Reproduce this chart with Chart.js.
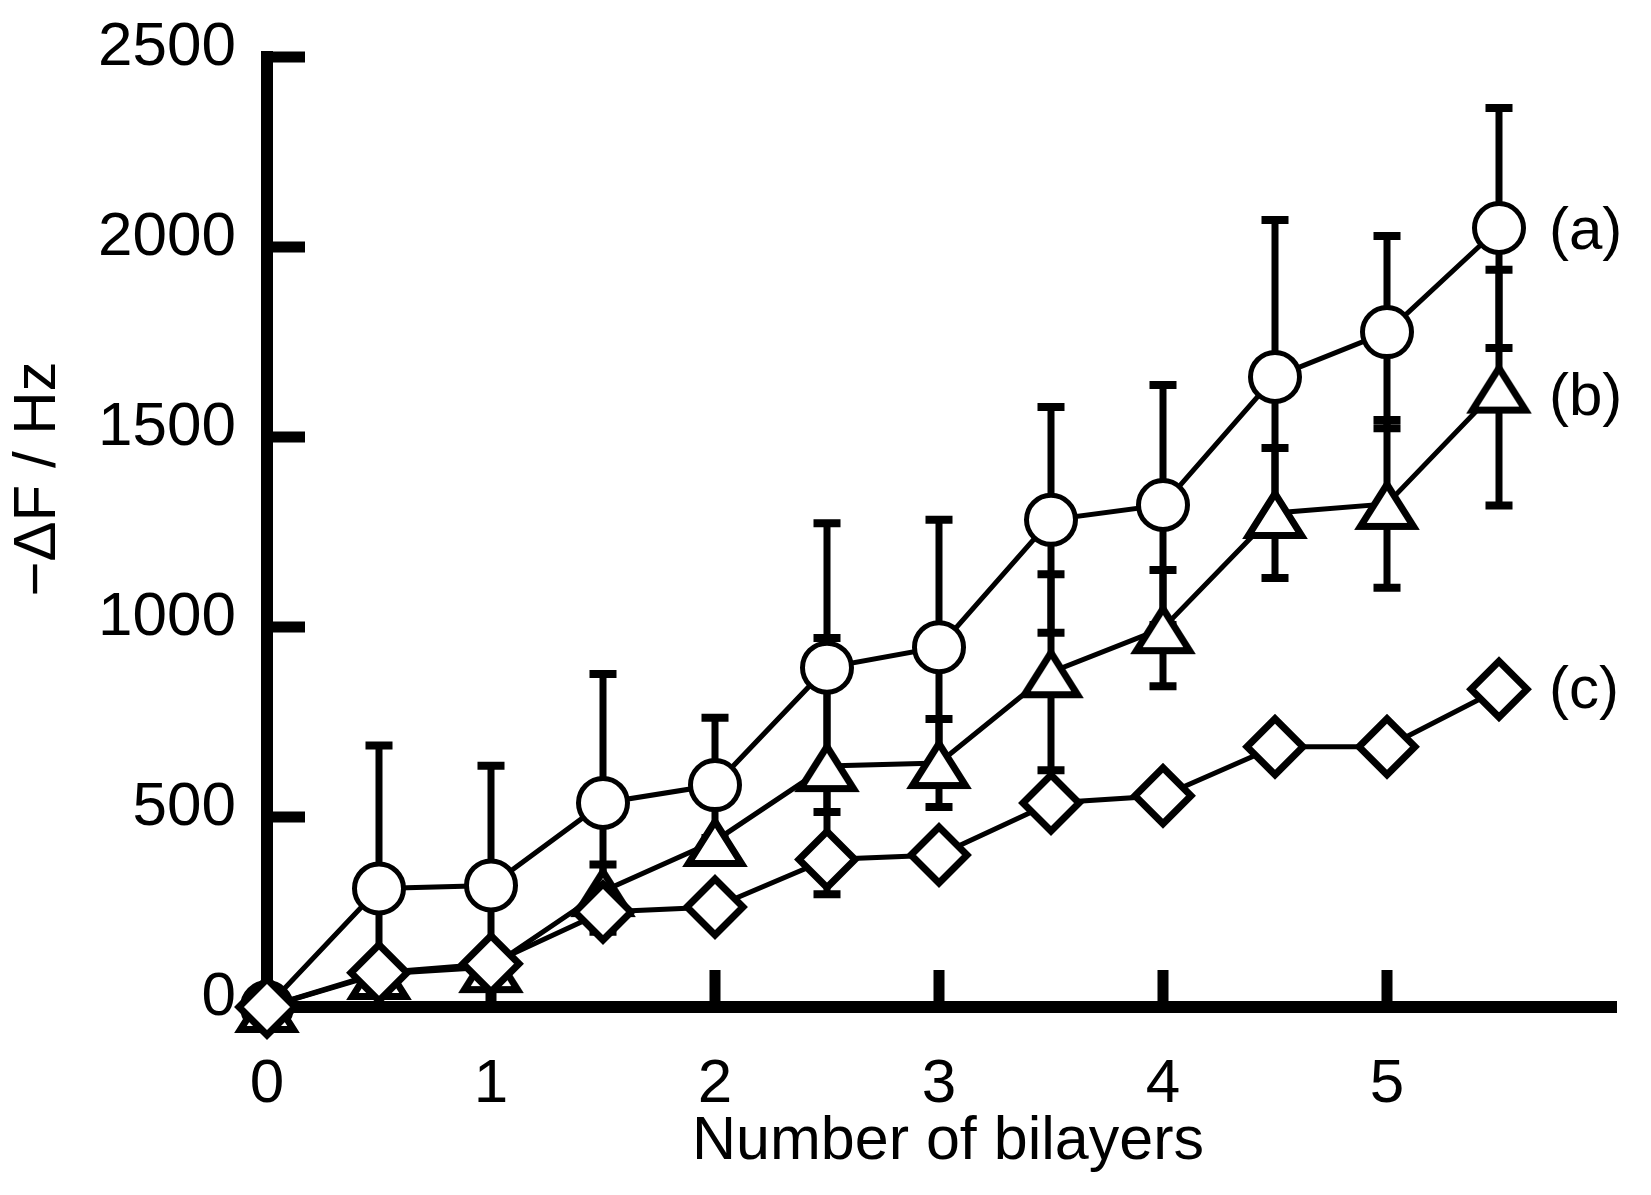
<!DOCTYPE html>
<html>
<head>
<meta charset="utf-8">
<script src="https://cdn.jsdelivr.net/npm/chart.js@4.4.1/dist/chart.umd.min.js"></script>
<style>
  html, body { margin: 0; padding: 0; background: #fff; }
  #wrap { width: 1651px; height: 1195px; }
</style>
</head>
<body>
<div id="wrap"><canvas id="chart"></canvas></div>
<script>
// valori
const bilayers = [0, 0.5, 1, 1.5, 2, 2.5, 3, 3.5, 4, 4.5, 5, 5.5]
const series_a = [0, 312, 320, 537, 584, 893, 947, 1282, 1321, 1658, 1776, 2050]
const series_a_err = [0, 376, 315, 339, 177, 380, 335, 297, 316, 413, 253, 316]
const series_b = [0, 87, 105, 305, 437, 634, 642, 881, 997, 1300, 1324, 1630]
const series_b_err = [0, 40, 40, 70, 8, 337, 116, 258, 153, 171, 221, 310]
const series_c = [0, 90, 114, 250, 263, 388, 400, 537, 556, 685, 685, 836]

const series_labels = ['(a)', '(b)', '(c)']
const x_ticks = [0, 1, 2, 3, 4, 5]
const y_ticks = [0, 500, 1000, 1500, 2000, 2500]
const x_title = 'Number of bilayers'
const y_title = '\u2212\u0394F / Hz'

const FONT = '"Liberation Sans", Arial, sans-serif'

// triangolo disegnato a parte così il centro è a metà altezza come nell'originale
function makeTriangle() {
  const c = document.createElement('canvas')
  c.width = 76
  c.height = 64
  const ctx = c.getContext('2d')
  ctx.beginPath()
  ctx.moveTo(38, 12.5)
  ctx.lineTo(64.5, 54.5)
  ctx.lineTo(11.5, 54.5)
  ctx.closePath()
  ctx.fillStyle = '#fff'
  ctx.fill()
  ctx.lineWidth = 7
  ctx.strokeStyle = '#000'
  ctx.stroke()
  return c
}

function points(values) {
  return bilayers.map((x, i) => ({ x: x, y: values[i] }))
}

// assi, tacche interne e barre d'errore sotto i marker
const frame_plugin = {
  id: 'frame',
  beforeDatasetsDraw(chart) {
    const ctx = chart.ctx
    const xs = chart.scales.x
    const ys = chart.scales.y
    const area = chart.chartArea
    ctx.save()
    ctx.strokeStyle = '#000'
    ctx.lineWidth = 12
    ctx.beginPath()
    ctx.moveTo(area.left, area.top - 6)
    ctx.lineTo(area.left, area.bottom)
    ctx.moveTo(area.left - 6, area.bottom)
    ctx.lineTo(area.right + 6, area.bottom)
    ctx.stroke()

    ctx.lineWidth = 11
    ctx.beginPath()
    y_ticks.forEach(v => {
      const py = ys.getPixelForValue(v)
      ctx.moveTo(area.left, py)
      ctx.lineTo(area.left + 38, py)
    })
    x_ticks.forEach(v => {
      const px = xs.getPixelForValue(v)
      ctx.moveTo(px, area.bottom)
      ctx.lineTo(px, area.bottom - 37)
    })
    ctx.stroke()

    // barre d'errore simmetriche
    chart.data.datasets.forEach(ds => {
      if (!ds.errors) return
      ds.data.forEach((p, j) => {
        const e = ds.errors[j]
        if (!e) return
        const px = xs.getPixelForValue(p.x)
        const top = ys.getPixelForValue(p.y + e)
        const bottom = ys.getPixelForValue(Math.max(0, p.y - e))
        ctx.lineWidth = 7
        ctx.beginPath()
        ctx.moveTo(px, top)
        ctx.lineTo(px, bottom)
        ctx.stroke()
        ctx.lineWidth = 8
        ctx.beginPath()
        ctx.moveTo(px - 13.5, top)
        ctx.lineTo(px + 13.5, top)
        ctx.moveTo(px - 13.5, bottom)
        ctx.lineTo(px + 13.5, bottom)
        ctx.stroke()
      })
    })
    ctx.restore()
  }
}

// etichette (a) (b) (c) e titoli degli assi
const text_plugin = {
  id: 'texts',
  afterDraw(chart) {
    const ctx = chart.ctx
    ctx.save()
    ctx.fillStyle = '#000'
    ctx.font = '60px ' + FONT
    ctx.textBaseline = 'middle'
    ctx.textAlign = 'left'
    const offsets = [4, 11, 2]
    chart.data.datasets.forEach((ds, i) => {
      const meta = chart.getDatasetMeta(i)
      const last = meta.data[meta.data.length - 1]
      ctx.fillText(series_labels[i], last.x + 50, last.y + offsets[i])
    })

    ctx.font = '61px ' + FONT
    ctx.textAlign = 'center'
    ctx.fillText(x_title, 948, 1142)

    ctx.font = '60px ' + FONT
    ctx.translate(38, 479)
    ctx.rotate(-Math.PI / 2)
    ctx.fillText(y_title, 0, 0)
    ctx.restore()
  }
}

const chart = new Chart(document.getElementById('chart'), {
  type: 'line',
  data: {
    datasets: [
      {
        label: series_labels[0],
        data: points(series_a),
        errors: series_a_err,
        order: 3,
        borderColor: '#000',
        borderWidth: 5,
        pointStyle: 'circle',
        pointRadius: 24.5,
        pointBorderWidth: 5,
        pointBackgroundColor: '#fff',
        pointBorderColor: '#000',
        tension: 0,
        clip: false
      },
      {
        label: series_labels[1],
        data: points(series_b),
        errors: series_b_err,
        order: 2,
        borderColor: '#000',
        borderWidth: 5,
        pointStyle: makeTriangle(),
        pointRadius: 30,
        tension: 0,
        clip: false
      },
      {
        label: series_labels[2],
        data: points(series_c),
        order: 1,
        borderColor: '#000',
        borderWidth: 5,
        pointStyle: 'rectRot',
        pointRadius: 28,
        pointBorderWidth: 7,
        pointBackgroundColor: '#fff',
        pointBorderColor: '#000',
        tension: 0,
        clip: false
      }
    ]
  },
  options: {
    responsive: true,
    maintainAspectRatio: false,
    animation: false,
    events: [],
    layout: { padding: { top: 57, right: 40, left: 0, bottom: 0 } },
    plugins: {
      legend: { display: false },
      tooltip: { enabled: false }
    },
    scales: {
      x: {
        type: 'linear',
        min: 0,
        max: 6,
        grid: { display: false, drawTicks: false },
        border: { display: false },
        afterBuildTicks: scale => { scale.ticks = x_ticks.map(v => ({ value: v })) },
        afterFit: scale => {
          scale.height = 188
          scale.paddingLeft = 0
          scale.paddingRight = 0
        },
        ticks: {
          padding: 41,
          color: '#000',
          maxRotation: 0,
          callback: v => String(v),
          font: { family: FONT, size: 62 }
        }
      },
      y: {
        type: 'linear',
        min: 0,
        max: 2500,
        grid: { display: false, drawTicks: false },
        border: { display: false },
        afterBuildTicks: scale => { scale.ticks = y_ticks.map(v => ({ value: v })) },
        afterFit: scale => {
          scale.width = 267
          scale.paddingTop = 0
          scale.paddingBottom = 0
        },
        ticks: {
          padding: 31,
          labelOffset: -9,
          color: '#000',
          callback: v => String(v),
          font: { family: FONT, size: 62 }
        }
      }
    }
  },
  plugins: [frame_plugin, text_plugin]
})
</script>
</body>
</html>
